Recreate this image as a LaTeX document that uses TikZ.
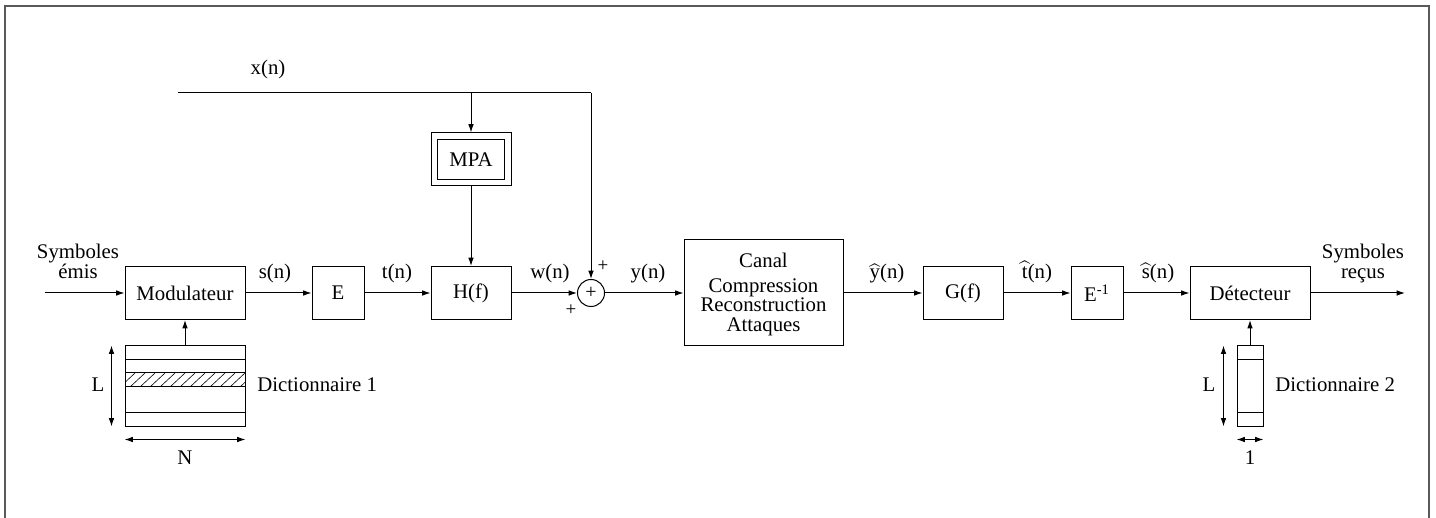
\documentclass[tikz,border=0pt]{standalone}
\usepackage{fontspec}
\setmainfont{Liberation Serif}
\usetikzlibrary{arrows.meta}
\begin{document}
\begin{tikzpicture}[x=0.5pt,y=-0.5pt,
  font=\fontsize{10.4}{12}\selectfont,
  blk/.style={draw, line width=0.5pt, minimum height=26.5pt, inner sep=0pt},
  lbl/.style={anchor=base, inner sep=0pt},
  conn/.style={line width=0.5pt, -{Latex[length=4.2pt,width=2.8pt]}},
  dim/.style={line width=0.5pt, {Latex[length=4.2pt,width=2.8pt]}-{Latex[length=4.2pt,width=2.8pt]}},
  thin line/.style={line width=0.5pt}]
\useasboundingbox (0,0) rectangle (1436,518);
% frame
\draw[black!65, line width=1pt] (5,520) -- (5,6.5) -- (1428.5,6.5) -- (1428.5,520);

% blocks
\node[blk, minimum width=60pt] (mod) at (185,293) {Modulateur};
\node[blk, minimum width=26pt] (E) at (338,293) {E};
\node[blk, minimum width=40pt] (H) at (471,293) {H(f)};
\node[blk, minimum width=40pt] (mpa) at (471,159.5) {};
\node[draw, line width=0.5pt, minimum width=33.5pt, minimum height=20pt, inner sep=0pt] (mpain) at (471,160) {MPA};
\node[draw, line width=0.5pt, circle, minimum size=13.5pt, inner sep=0pt] (sum) at (591,293) {\fontsize{10}{10}\selectfont +};
\node[draw, line width=0.5pt, minimum width=79.5pt, minimum height=53pt, inner sep=0pt] (canal) at (763.5,293) {};
\node[blk, minimum width=40pt] (G) at (963,293) {G(f)};
\node[blk, minimum width=26pt] (Einv) at (1097,293) {E\textsuperscript{-1}};
\node[blk, minimum width=60pt] (det) at (1250,293) {Détecteur};

% canal text
\node[lbl] (c1) at (763.5,268) {Canal};
\node[lbl] (c2) at (763.5,293) {Compression};
\node[lbl] (c3) at (763.5,312) {Reconstruction};
\node[lbl] (c4) at (763.5,332) {Attaques};

% dictionaries
\node[draw, line width=0.5pt, minimum width=60pt, minimum height=40pt, inner sep=0pt] (d1) at (185,386) {};
\begin{scope}
  \clip (125,373) rectangle (245,387);
  \foreach \x in {100,110,...,250} \draw[line width=0.3pt] (\x,387) -- (\x+15,373);
\end{scope}
\foreach \yy in {360,373,387,413} \draw[thin line] (125,\yy) -- (245,\yy);
\node[draw, line width=0.5pt, minimum width=13pt, minimum height=40pt, inner sep=0pt] (d2) at (1250,386) {};
\foreach \yy in {360,413} \draw[thin line] (1237,\yy) -- (1263,\yy);

% dimension arrows
\draw[dim] ([xshift=-6.5pt]d1.north west) -- ([xshift=-6.5pt]d1.south west);
\draw[dim] ([yshift=-6.5pt]d1.south west) -- ([yshift=-6.5pt]d1.south east);
\draw[dim] ([xshift=-6.5pt]d2.north west) -- ([xshift=-6.5pt]d2.south west);
\draw[dim] ([yshift=-6.5pt]d2.south west) -- ([yshift=-6.5pt]d2.south east);
\node[lbl] (L1) at (98,392) {L};
\node[lbl, anchor=base west] (dn1) at (257,392) {Dictionnaire 1};
\node[lbl] (N1) at (185,465) {N};
\node[lbl] (L2) at (1209,392) {L};
\node[lbl, anchor=base west] (dn2) at (1275,392) {Dictionnaire 2};
\node[lbl] (one) at (1250,465) {1};

% connectors
\coordinate (in) at (45,293);
\coordinate (out) at (1405,293);
\coordinate (xs) at (178,93);
\coordinate (xb) at (471,93);
\coordinate (xc) at (591,93);
\draw[conn] (in) -- (mod);
\draw[conn] (mod) -- (E);
\draw[conn] (E) -- (H);
\draw[conn] (H) -- (sum);
\draw[conn] (sum) -- (canal);
\draw[conn] (canal) -- (G);
\draw[conn] (G) -- (Einv);
\draw[conn] (Einv) -- (det);
\draw[conn] (det) -- (out);
\draw[thin line] (xs) -- (xc);
\draw[conn] (xc) -- (sum);
\draw[conn] (xb) -- (mpa);
\draw[conn] (mpa) -- (H);
\draw[conn] (d1) -- (mod);
\draw[conn] (d2) -- (det);

% signal labels
\node[lbl] (xn) at (268,75) {x(n)};
\node[lbl] (s1) at (78,259) {Symboles};
\node[lbl] (s2) at (78,279) {émis};
\node[lbl] (r1) at (1363,259) {Symboles};
\node[lbl] (r2) at (1363,279) {reçus};
\node[lbl] (sn) at (275,279) {s(n)};
\node[lbl] (tn) at (397,279) {t(n)};
\node[lbl] (wn) at (550,279) {w(n)};
\node[lbl] (yn) at (648,279) {y(n)};
\node[lbl] (yh) at (887,279) {$\widehat{\hbox{y}}$(n)};
\node[lbl] (th) at (1037,279) {$\widehat{\hbox{t}}$(n)};
\node[lbl] (sh) at (1158,279) {$\widehat{\hbox{s}}$(n)};
\node[inner sep=0pt, font=\fontsize{9.5}{10}\selectfont] (p1) at (603,266) {+};
\node[inner sep=0pt, font=\fontsize{9.5}{10}\selectfont] (p2) at (571,310) {+};
\end{tikzpicture}
\end{document}
